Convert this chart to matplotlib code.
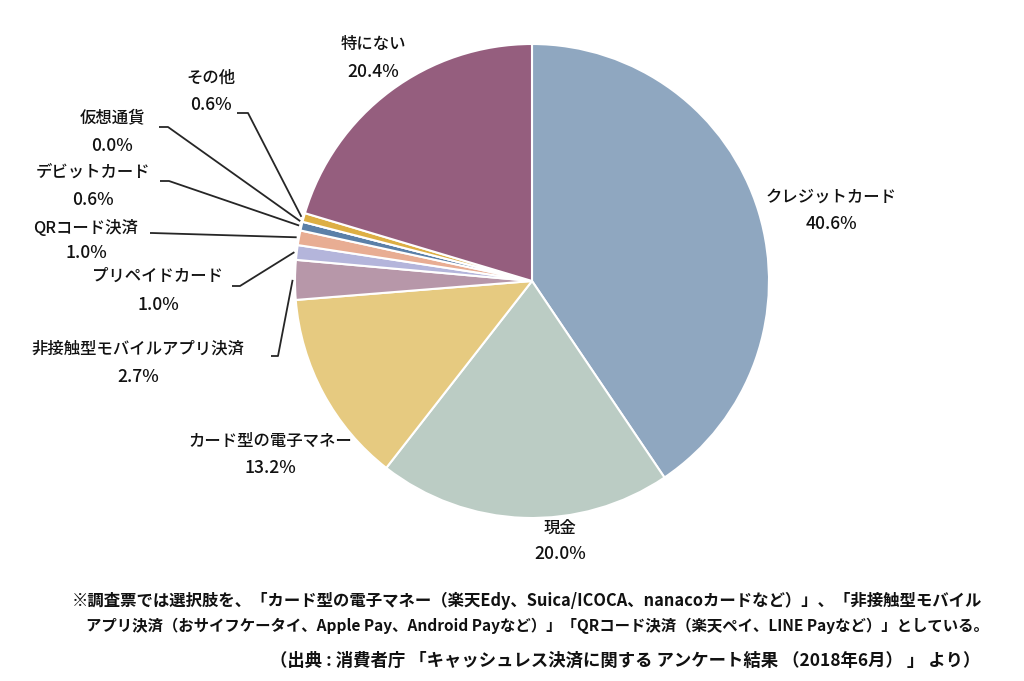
import matplotlib
matplotlib.use("Agg")
import matplotlib.pyplot as plt
import numpy as np

plt.rcParams['font.family'] = ['Noto Sans CJK JP', 'DejaVu Sans']

categories = ["クレジットカード", "現金", "カード型の電子マネー", "非接触型モバイルアプリ決済",
              "プリペイドカード", "QRコード決済", "デビットカード", "仮想通貨", "その他", "特にない"]
values = [40.6, 20.0, 13.2, 2.7, 1.0, 1.0, 0.6, 0.0, 0.6, 20.4]
pct_labels = ["40.6%", "20.0%", "13.2%", "2.7%", "1.0%", "1.0%", "0.6%", "0.0%", "0.6%", "20.4%"]
colors = ["#8FA7C0", "#BBCCC4", "#E6CA80", "#B797A9", "#B4B5DB", "#E8AD93",
          "#5B80A8", "#7F9F5F", "#DDAF44", "#955E7E"]

footnote1 = "※調査票では選択肢を、「カード型の電子マネー（楽天Edy、Suica/ICOCA、nanacoカードなど）」、「非接触型モバイル"
footnote2 = "アプリ決済（おサイフケータイ、Apple Pay、Android Payなど）」「QRコード決済（楽天ペイ、LINE Payなど）」としている。"
source = "（出典 : 消費者庁 「キャッシュレス決済に関する アンケート結果 （2018年6月） 」 より）"

W, H = 1024, 681
fig = plt.figure(figsize=(W / 100, H / 100), dpi=100)
ax = fig.add_axes([0, 0, 1, 1])

cx, cy, R = 532, 281, 237
# y axis inverted -> counterclockwise in data == clockwise on screen
wedges, _ = ax.pie(values, colors=colors, startangle=-90, counterclock=True,
                   center=(cx, cy), radius=R, frame=True,
                   wedgeprops=dict(edgecolor='white', linewidth=1.5))
ax.set_xlim(0, W)
ax.set_ylim(H, 0)
ax.set_aspect('equal')
ax.axis('off')

fs_name = 11.8
fs_pct = 12.6
txt_color = '#111111'
# label layout: (name_x, name_y, pct_y, leader) leader = (line start x, y, elbow x) or None
layout = {
    0: (831, 197, 224, None),
    1: (560, 528, 554, None),
    2: (270, 441, 468, None),
    3: (138, 349, 377, (271, 356, 278)),
    4: (158, 276, 305, (232, 286, 240)),
    5: (86, 228, 253, (150, 233, 152)),
    6: (93, 172, 200, (160, 181, 169)),
    7: (112, 118, 146, (159, 127, 168)),
    8: (211, 78, 105, (237, 113, 248)),
    9: (373, 44, 72, None),
}

for i, w in enumerate(wedges):
    nx, ny, py, leader = layout[i]
    ax.text(nx, ny, categories[i], ha='center', va='center', fontsize=fs_name,
            fontweight='medium', color=txt_color)
    ax.text(nx, py, pct_labels[i], ha='center', va='center', fontsize=fs_pct,
            fontweight='medium', color=txt_color)
    if leader is not None:
        sx, sy, ex = leader
        th = np.deg2rad((w.theta1 + w.theta2) / 2)
        px = cx + R * 1.01 * np.cos(th)
        py2 = cy + R * 1.01 * np.sin(th)
        ax.plot([sx, ex, px], [sy, sy, py2], color='#262626', lw=1.3, solid_capstyle='butt')

ax.text(72, 601, footnote1, ha='left', va='center', fontsize=11.8, fontweight='bold', color=txt_color)
ax.text(86, 626, footnote2, ha='left', va='center', fontsize=11.1, fontweight='bold', color=txt_color)
ax.text(980, 661, source, ha='right', va='center', fontsize=12.5, fontweight='bold', color=txt_color)

fig.savefig("out.png", dpi=100, facecolor='white')
